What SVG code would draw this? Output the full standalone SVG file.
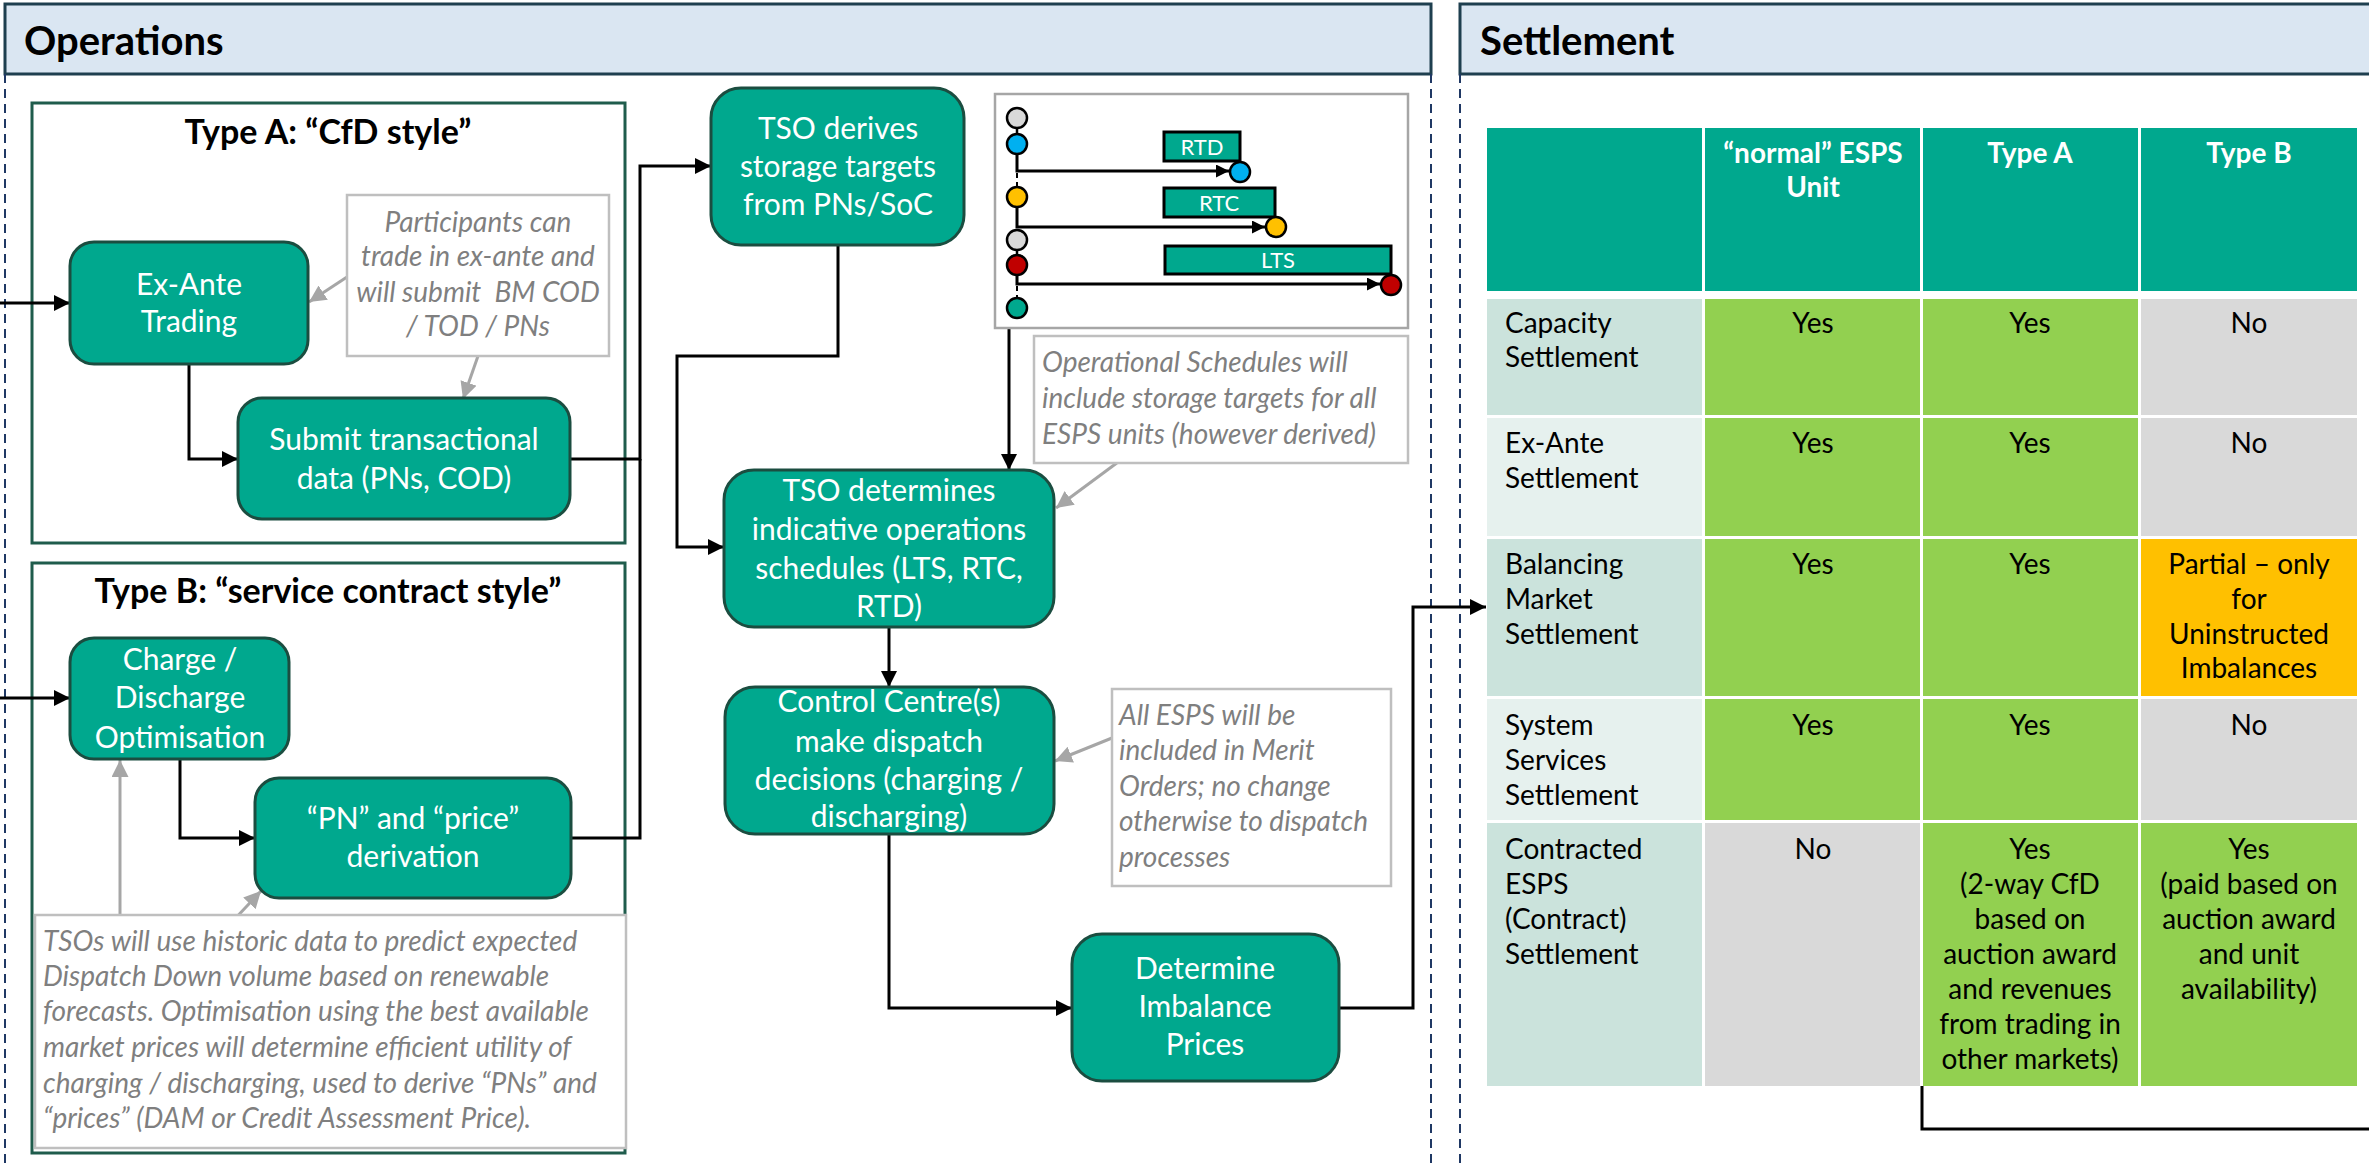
<svg xmlns="http://www.w3.org/2000/svg" width="2369" height="1169" viewBox="0 0 2369 1169">
<defs>
<style>
.hdr{fill:#DAE6F2;stroke:#1E3F4F;stroke-width:3}
.hdrt{font-family:Lato,"Open Sans",sans-serif;font-weight:bold;font-size:40px;fill:#000}
.dash{stroke:#1F3864;stroke-width:2;stroke-dasharray:9 6;fill:none}
.cont{fill:none;stroke:#1F5C4C;stroke-width:3}
.ttl{font-family:Lato,"Open Sans",sans-serif;font-weight:bold;font-size:34px;fill:#000;text-anchor:middle}
.box{fill:#00A88E;stroke:#1B4D40;stroke-width:3}
.bt{font-family:Lato,"Open Sans",sans-serif;font-size:30px;fill:#fff;text-anchor:middle}
.call{fill:#fff;stroke:#BFBFBF;stroke-width:2.5}
.ct{font-family:Lato,"Open Sans",sans-serif;font-style:italic;font-size:28px;fill:#7F7F7F}
.con{fill:none;stroke:#000;stroke-width:3}
.gcon{fill:none;stroke:#A6A6A6;stroke-width:3}
.tt{font-family:Lato,"Open Sans",sans-serif;font-size:28px;fill:#000}
.tc{text-anchor:middle}
.th{font-family:Lato,"Open Sans",sans-serif;font-weight:bold;font-size:28px;fill:#fff;text-anchor:middle}
.circ{stroke:#000;stroke-width:2.5}
.ib{fill:#00A88E;stroke:#000;stroke-width:3}
.it{font-family:Lato,"Open Sans",sans-serif;font-size:22px;fill:#fff;text-anchor:middle}
</style>
<marker id="ah" viewBox="0 0 10 10" refX="10" refY="5" markerWidth="16" markerHeight="16" markerUnits="userSpaceOnUse" orient="auto"><path d="M0,0 L10,5 L0,10 z" fill="#000"/></marker>
<marker id="ahs" viewBox="0 0 10 10" refX="10" refY="5" markerWidth="13" markerHeight="13" markerUnits="userSpaceOnUse" orient="auto"><path d="M0,0 L10,5 L0,10 z" fill="#000"/></marker>
<marker id="ahg" viewBox="0 0 10 10" refX="10" refY="5" markerWidth="17" markerHeight="17" markerUnits="userSpaceOnUse" orient="auto"><path d="M0,0 L10,5 L0,10 z" fill="#A6A6A6"/></marker>
</defs>
<rect width="2369" height="1169" fill="#fff"/>

<g id="panel-operations">
<rect class="hdr" x="5" y="4" width="1426" height="70"/>
<text class="hdrt" x="24" y="55">Operations</text>
<line class="dash" x1="5" y1="74" x2="5" y2="1169"/>
<line class="dash" x1="1431" y1="74" x2="1431" y2="1169"/>
</g>
<g id="panel-settlement">
<rect class="hdr" x="1460" y="4" width="930" height="70"/>
<text class="hdrt" x="1480" y="55">Settlement</text>
<line class="dash" x1="1460" y1="74" x2="1460" y2="1169"/>
</g>

<g id="typeA">
<rect class="cont" x="32" y="103" width="593" height="440"/>
<text class="ttl" x="328" y="144">Type A: “CfD style”</text>
</g>
<g id="typeB">
<rect class="cont" x="32" y="563" width="593" height="590"/>
<text class="ttl" x="328" y="603">Type B: “service contract style”</text>
</g>

<g id="connectors">
<path class="con" d="M0,303 H70" marker-end="url(#ah)"/>
<path class="con" d="M0,698 H70" marker-end="url(#ah)"/>
<path class="con" d="M189,364 V459 H238" marker-end="url(#ah)"/>
<path class="con" d="M570,459 H640 V166 H711" marker-end="url(#ah)"/>
<path class="con" d="M571,838 H640 V459"/>
<path class="con" d="M180,759 V838 H255" marker-end="url(#ah)"/>
<path class="con" d="M838,245 V356 H677 V547 H724" marker-end="url(#ah)"/>
<path class="con" d="M1009,328 V470" marker-end="url(#ah)"/>
<path class="con" d="M889,627 V687" marker-end="url(#ah)"/>
<path class="con" d="M889,834 V1008 H1072" marker-end="url(#ah)"/>
<path class="con" d="M1339,1008 H1413 V607 H1486" marker-end="url(#ah)"/>
<path class="con" d="M1922,1086 V1129 H2369"/>
<path class="gcon" d="M347,277 L309,302" marker-end="url(#ahg)"/>
<path class="gcon" d="M478,356 L463,399" marker-end="url(#ahg)"/>
<path class="gcon" d="M1160,431 L1056,508" marker-end="url(#ahg)"/>
<path class="gcon" d="M1112,738 L1055,761" marker-end="url(#ahg)"/>
<path class="gcon" d="M120,919 V760" marker-end="url(#ahg)"/>
<path class="gcon" d="M231,923 L261,891" marker-end="url(#ahg)"/>
</g>

<g id="exante">
<rect class="box" x="70" y="242" width="238" height="122" rx="24"/>
<text class="bt" x="189" y="295">Ex-Ante</text>
<text class="bt" x="189" y="332">Trading</text>
</g>
<g id="submit">
<rect class="box" x="238" y="398" width="332" height="121" rx="24"/>
<text class="bt" x="404" y="450">Submit transactional</text>
<text class="bt" x="404" y="489">data (PNs, COD)</text>
</g>
<g id="callout-participants">
<rect class="call" x="347" y="195" width="262" height="161"/>
<text class="ct" text-anchor="middle" x="478" y="232">Participants can</text>
<text class="ct" text-anchor="middle" x="478" y="266">trade in ex-ante and</text>
<text class="ct" text-anchor="middle" x="478" y="302" xml:space="preserve">will submit  BM COD</text>
<text class="ct" text-anchor="middle" x="478" y="336">/ TOD / PNs</text>
</g>

<g id="charge">
<rect class="box" x="70" y="638" width="219" height="121" rx="24"/>
<text class="bt" x="180" y="670">Charge /</text>
<text class="bt" x="180" y="708">Discharge</text>
<text class="bt" x="180" y="748">Optimisation</text>
</g>
<g id="pn">
<rect class="box" x="255" y="778" width="316" height="120" rx="24"/>
<text class="bt" x="413" y="829">“PN” and “price”</text>
<text class="bt" x="413" y="867">derivation</text>
</g>
<g id="callout-tsos">
<rect class="call" x="35" y="915" width="591" height="233"/>
<text class="ct" x="43" y="951">TSOs will use historic data to predict expected</text>
<text class="ct" x="43" y="986">Dispatch Down volume based on renewable</text>
<text class="ct" x="43" y="1021">forecasts. Optimisation using the best available</text>
<text class="ct" x="43" y="1057">market prices will determine efficient utility of</text>
<text class="ct" x="43" y="1093">charging / discharging, used to derive “PNs” and</text>
<text class="ct" x="43" y="1128">“prices” (DAM or Credit Assessment Price).</text>
</g>

<g id="tso-derives">
<rect class="box" x="711" y="88" width="253" height="157" rx="30"/>
<text class="bt" x="838" y="139">TSO derives</text>
<text class="bt" x="838" y="177">storage targets</text>
<text class="bt" x="838" y="215">from PNs/SoC</text>
</g>
<g id="schedule-inset">
<rect x="995" y="94" width="413" height="234" fill="#fff" stroke="#A6A6A6" stroke-width="2.5"/>
<line x1="1017" y1="128" x2="1017" y2="134" stroke="#000" stroke-width="2.5"/>
<path class="con" d="M1017,154 V171 H1229" marker-end="url(#ahs)"/>
<line x1="1017" y1="173" x2="1017" y2="187" stroke="#000" stroke-width="2" stroke-dasharray="5 4"/>
<path class="con" d="M1017,207 V227 H1265" marker-end="url(#ahs)"/>
<line x1="1017" y1="250" x2="1017" y2="255" stroke="#000" stroke-width="2.5"/>
<path class="con" d="M1017,275 V284 H1380" marker-end="url(#ahs)"/>
<line x1="1017" y1="286" x2="1017" y2="298" stroke="#000" stroke-width="2" stroke-dasharray="5 4"/>
<rect class="ib" x="1164" y="132" width="76" height="29"/>
<text class="it" x="1202" y="155">RTD</text>
<rect class="ib" x="1164" y="188" width="111" height="29"/>
<text class="it" x="1219" y="211">RTC</text>
<rect class="ib" x="1165" y="246" width="226" height="28"/>
<text class="it" x="1278" y="268">LTS</text>
<circle class="circ" cx="1017" cy="118" r="10" fill="#D9D9D9"/>
<circle class="circ" cx="1017" cy="144" r="10" fill="#00B0F0"/>
<circle class="circ" cx="1017" cy="197" r="10" fill="#FFC000"/>
<circle class="circ" cx="1017" cy="240" r="10" fill="#D9D9D9"/>
<circle class="circ" cx="1017" cy="265" r="10" fill="#C00000"/>
<circle class="circ" cx="1017" cy="308" r="10" fill="#00A88E"/>
<circle class="circ" cx="1240" cy="172" r="10" fill="#00B0F0"/>
<circle class="circ" cx="1276" cy="227" r="10" fill="#FFC000"/>
<circle class="circ" cx="1391" cy="285" r="10" fill="#C00000"/>
</g>
<g id="callout-opsched">
<rect class="call" x="1034" y="336" width="374" height="127"/>
<text class="ct" x="1042" y="372">Operational Schedules will</text>
<text class="ct" x="1042" y="408">include storage targets for all</text>
<text class="ct" x="1042" y="444">ESPS units (however derived)</text>
</g>
<g id="tso-determines">
<rect class="box" x="724" y="470" width="330" height="157" rx="30"/>
<text class="bt" x="889" y="501">TSO determines</text>
<text class="bt" x="889" y="540">indicative operations</text>
<text class="bt" x="889" y="579">schedules (LTS, RTC,</text>
<text class="bt" x="889" y="617">RTD)</text>
</g>
<g id="control-centre">
<rect class="box" x="725" y="687" width="329" height="147" rx="30"/>
<text class="bt" x="889" y="712">Control Centre(s)</text>
<text class="bt" x="889" y="752">make dispatch</text>
<text class="bt" x="889" y="790">decisions (charging /</text>
<text class="bt" x="889" y="827">discharging)</text>
</g>
<g id="callout-merit">
<rect class="call" x="1112" y="689" width="279" height="197"/>
<text class="ct" x="1119" y="725">All ESPS will be</text>
<text class="ct" x="1119" y="760">included in Merit</text>
<text class="ct" x="1119" y="796">Orders; no change</text>
<text class="ct" x="1119" y="831">otherwise to dispatch</text>
<text class="ct" x="1119" y="867">processes</text>
</g>
<g id="imbalance">
<rect class="box" x="1072" y="934" width="267" height="147" rx="30"/>
<text class="bt" x="1205" y="979">Determine</text>
<text class="bt" x="1205" y="1017">Imbalance</text>
<text class="bt" x="1205" y="1055">Prices</text>
</g>

<g id="settlement-table">
<rect x="1487" y="128" width="215" height="163" fill="#00A88E"/>
<rect x="1705" y="128" width="215" height="163" fill="#00A88E"/>
<rect x="1923" y="128" width="215" height="163" fill="#00A88E"/>
<rect x="2141" y="128" width="216" height="163" fill="#00A88E"/>
<text class="th" x="1813" y="163">“normal” ESPS</text>
<text class="th" x="1813" y="197">Unit</text>
<text class="th" x="2030" y="163">Type A</text>
<text class="th" x="2249" y="163">Type B</text>

<rect x="1487" y="299" width="215" height="116" fill="#CBE3DC"/>
<rect x="1705" y="299" width="215" height="116" fill="#92D050"/>
<rect x="1923" y="299" width="215" height="116" fill="#92D050"/>
<rect x="2141" y="299" width="216" height="116" fill="#D9D9D9"/>
<text class="tt" x="1505" y="333">Capacity</text>
<text class="tt" x="1505" y="367">Settlement</text>
<text class="tt tc" x="1813" y="333">Yes</text>
<text class="tt tc" x="2030" y="333">Yes</text>
<text class="tt tc" x="2249" y="333">No</text>

<rect x="1487" y="418" width="215" height="118" fill="#E6F1EE"/>
<rect x="1705" y="418" width="215" height="118" fill="#92D050"/>
<rect x="1923" y="418" width="215" height="118" fill="#92D050"/>
<rect x="2141" y="418" width="216" height="118" fill="#D9D9D9"/>
<text class="tt" x="1505" y="453">Ex-Ante</text>
<text class="tt" x="1505" y="488">Settlement</text>
<text class="tt tc" x="1813" y="453">Yes</text>
<text class="tt tc" x="2030" y="453">Yes</text>
<text class="tt tc" x="2249" y="453">No</text>

<rect x="1487" y="539" width="215" height="157" fill="#CBE3DC"/>
<rect x="1705" y="539" width="215" height="157" fill="#92D050"/>
<rect x="1923" y="539" width="215" height="157" fill="#92D050"/>
<rect x="2141" y="539" width="216" height="157" fill="#FFC000"/>
<text class="tt" x="1505" y="574">Balancing</text>
<text class="tt" x="1505" y="609">Market</text>
<text class="tt" x="1505" y="644">Settlement</text>
<text class="tt tc" x="1813" y="574">Yes</text>
<text class="tt tc" x="2030" y="574">Yes</text>
<text class="tt tc" x="2249" y="574">Partial – only</text>
<text class="tt tc" x="2249" y="609">for</text>
<text class="tt tc" x="2249" y="644">Uninstructed</text>
<text class="tt tc" x="2249" y="678">Imbalances</text>

<rect x="1487" y="699" width="215" height="121" fill="#E6F1EE"/>
<rect x="1705" y="699" width="215" height="121" fill="#92D050"/>
<rect x="1923" y="699" width="215" height="121" fill="#92D050"/>
<rect x="2141" y="699" width="216" height="121" fill="#D9D9D9"/>
<text class="tt" x="1505" y="735">System</text>
<text class="tt" x="1505" y="770">Services</text>
<text class="tt" x="1505" y="805">Settlement</text>
<text class="tt tc" x="1813" y="735">Yes</text>
<text class="tt tc" x="2030" y="735">Yes</text>
<text class="tt tc" x="2249" y="735">No</text>

<rect x="1487" y="823" width="215" height="263" fill="#CBE3DC"/>
<rect x="1705" y="823" width="215" height="263" fill="#D9D9D9"/>
<rect x="1923" y="823" width="215" height="263" fill="#92D050"/>
<rect x="2141" y="823" width="216" height="263" fill="#92D050"/>
<text class="tt" x="1505" y="859">Contracted</text>
<text class="tt" x="1505" y="894">ESPS</text>
<text class="tt" x="1505" y="929">(Contract)</text>
<text class="tt" x="1505" y="964">Settlement</text>
<text class="tt tc" x="1813" y="859">No</text>
<text class="tt tc" x="2030" y="859">Yes</text>
<text class="tt tc" x="2030" y="894">(2-way CfD</text>
<text class="tt tc" x="2030" y="929">based on</text>
<text class="tt tc" x="2030" y="964">auction award</text>
<text class="tt tc" x="2030" y="999">and revenues</text>
<text class="tt tc" x="2030" y="1034">from trading in</text>
<text class="tt tc" x="2030" y="1069">other markets)</text>
<text class="tt tc" x="2249" y="859">Yes</text>
<text class="tt tc" x="2249" y="894">(paid based on</text>
<text class="tt tc" x="2249" y="929">auction award</text>
<text class="tt tc" x="2249" y="964">and unit</text>
<text class="tt tc" x="2249" y="999">availability)</text>
</g>
</svg>
